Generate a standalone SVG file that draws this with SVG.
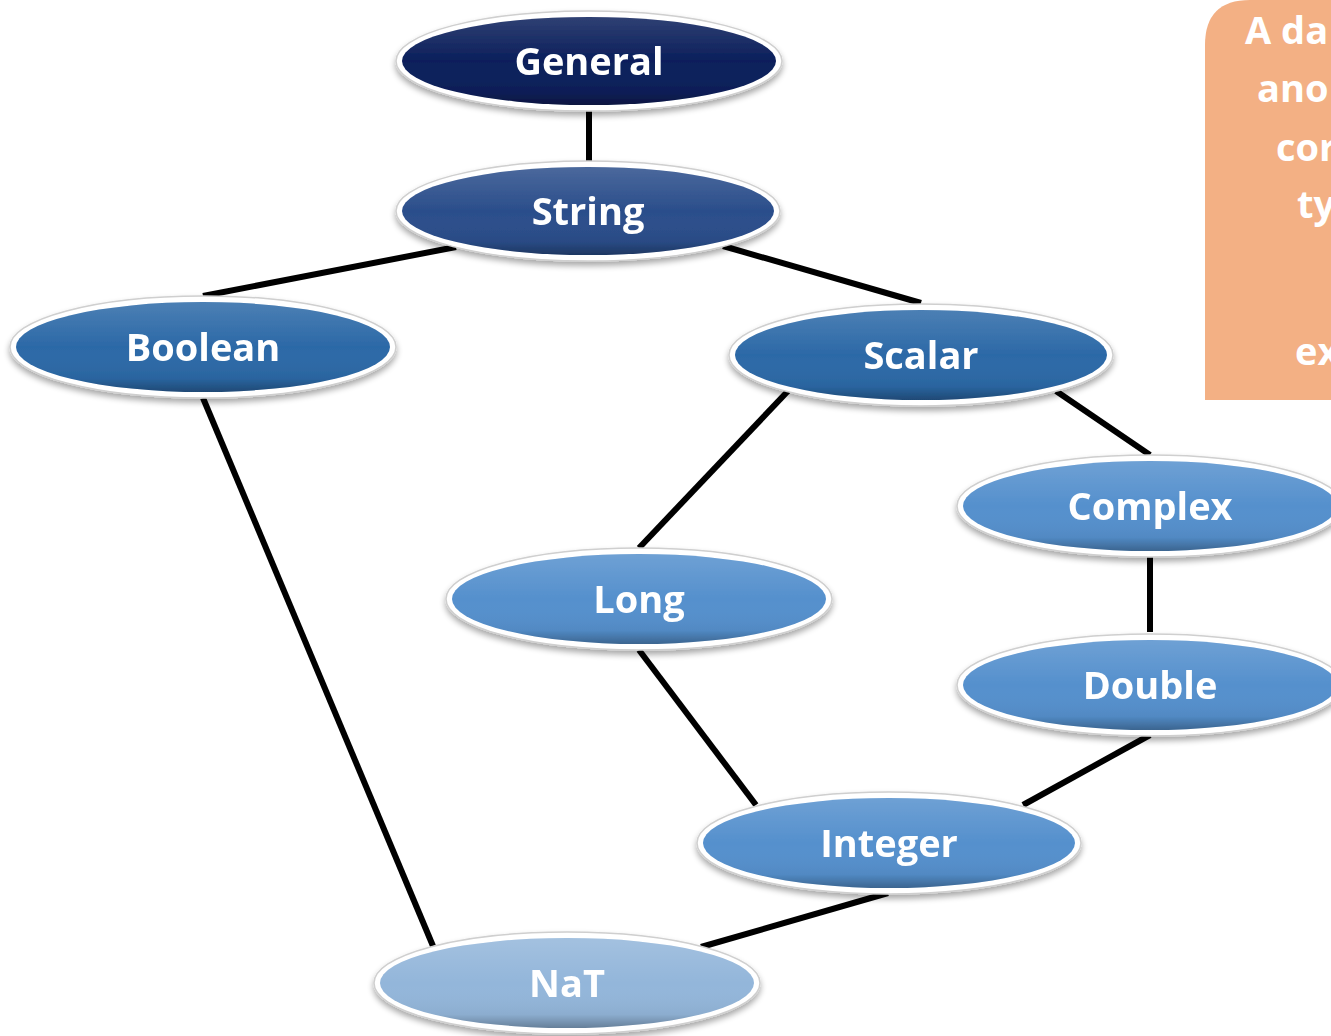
<svg xmlns="http://www.w3.org/2000/svg" width="1331" height="1036" viewBox="0 0 1331 1036">
<defs>
<filter id="sh" x="-10%" y="-20%" width="120%" height="150%">
<feGaussianBlur in="SourceAlpha" stdDeviation="3"/>
<feOffset dx="0" dy="4"/>
<feComponentTransfer><feFuncA type="linear" slope="0.35"/></feComponentTransfer>
<feMerge><feMergeNode/><feMergeNode in="SourceGraphic"/></feMerge>
</filter>
<linearGradient id="gloss" x1="0" y1="0" x2="0" y2="1">
<stop offset="0" stop-color="#ffffff" stop-opacity="0.15"/>
<stop offset="0.5" stop-color="#ffffff" stop-opacity="0"/>
<stop offset="0.85" stop-color="#000000" stop-opacity="0.05"/>
<stop offset="1" stop-color="#000000" stop-opacity="0.3"/>
</linearGradient>
</defs>
<style>
.edge{stroke:#000;stroke-width:6;fill:none}
.rim{fill:#fff;stroke:#cfcfcf;stroke-width:1.5}
.lbl{font-family:"Open Sans",Lato,"Liberation Sans",sans-serif;font-weight:bold;font-size:38px;fill:#fff;text-anchor:middle}
.note{font-family:"Open Sans",Lato,"Liberation Sans",sans-serif;font-weight:bold;font-size:38px;fill:#fff}
.c0{fill:#0b1f5b}.c1{fill:#2b4e8b}.c2{fill:#2c69a7}.c3{fill:#5590cd}.c4{fill:#93b6da}
</style>
<g id="note">
<path d="M1250,0 H1331 V400 H1205 V45 Q1205,0 1250,0 Z" fill="#f3b084"/>
<text class="note" x="1245" y="44">A da</text>
<text class="note" x="1257" y="102">ano</text>
<text class="note" x="1276" y="161">cor</text>
<text class="note" x="1297" y="218">ty</text>
<text class="note" x="1295" y="365">ex</text>
</g>
<g id="connectors">
<line class="edge" x1="589" y1="110" x2="589" y2="161"/>
<line class="edge" x1="456" y1="247" x2="203" y2="296"/>
<line class="edge" x1="723" y1="246" x2="921" y2="303"/>
<line class="edge" x1="788" y1="391" x2="639" y2="548"/>
<line class="edge" x1="1056" y1="391" x2="1150" y2="455"/>
<line class="edge" x1="1150" y1="557" x2="1150" y2="632"/>
<line class="edge" x1="639" y1="650" x2="756" y2="805"/>
<line class="edge" x1="1150" y1="735" x2="1023" y2="805"/>
<line class="edge" x1="203" y1="398" x2="433" y2="946"/>
<line class="edge" x1="888" y1="893" x2="701" y2="947"/>
</g>
<g id="General" filter="url(#sh)">
<ellipse class="rim" cx="589" cy="61" rx="193" ry="50"/>
<ellipse class="c0" cx="589" cy="61" rx="187" ry="44"/>
<ellipse cx="589" cy="61" rx="187" ry="44" fill="url(#gloss)"/>
<text class="lbl" x="589" y="75">General</text>
</g>
<g id="String" filter="url(#sh)">
<ellipse class="rim" cx="588" cy="211" rx="192" ry="50"/>
<ellipse class="c1" cx="588" cy="211" rx="186" ry="44"/>
<ellipse cx="588" cy="211" rx="186" ry="44" fill="url(#gloss)"/>
<text class="lbl" x="588" y="225">String</text>
</g>
<g id="Boolean" filter="url(#sh)">
<ellipse class="rim" cx="203" cy="347" rx="193" ry="51"/>
<ellipse class="c2" cx="203" cy="347" rx="187" ry="45"/>
<ellipse cx="203" cy="347" rx="187" ry="45" fill="url(#gloss)"/>
<text class="lbl" x="203" y="361">Boolean</text>
</g>
<g id="Scalar" filter="url(#sh)">
<ellipse class="rim" cx="921" cy="355" rx="192" ry="51"/>
<ellipse class="c2" cx="921" cy="355" rx="186" ry="45"/>
<ellipse cx="921" cy="355" rx="186" ry="45" fill="url(#gloss)"/>
<text class="lbl" x="921" y="369">Scalar</text>
</g>
<g id="Complex" filter="url(#sh)">
<ellipse class="rim" cx="1150" cy="506" rx="193" ry="51"/>
<ellipse class="c3" cx="1150" cy="506" rx="187" ry="45"/>
<ellipse cx="1150" cy="506" rx="187" ry="45" fill="url(#gloss)"/>
<text class="lbl" x="1150" y="520">Complex</text>
</g>
<g id="Long" filter="url(#sh)">
<ellipse class="rim" cx="639" cy="599" rx="193" ry="51"/>
<ellipse class="c3" cx="639" cy="599" rx="187" ry="45"/>
<ellipse cx="639" cy="599" rx="187" ry="45" fill="url(#gloss)"/>
<text class="lbl" x="639" y="613">Long</text>
</g>
<g id="Double" filter="url(#sh)">
<ellipse class="rim" cx="1150" cy="685" rx="193" ry="51"/>
<ellipse class="c3" cx="1150" cy="685" rx="187" ry="45"/>
<ellipse cx="1150" cy="685" rx="187" ry="45" fill="url(#gloss)"/>
<text class="lbl" x="1150" y="699">Double</text>
</g>
<g id="Integer" filter="url(#sh)">
<ellipse class="rim" cx="889" cy="843" rx="192" ry="51"/>
<ellipse class="c3" cx="889" cy="843" rx="186" ry="45"/>
<ellipse cx="889" cy="843" rx="186" ry="45" fill="url(#gloss)"/>
<text class="lbl" x="889" y="857">Integer</text>
</g>
<g id="NaT" filter="url(#sh)">
<ellipse class="rim" cx="567" cy="983" rx="193" ry="51"/>
<ellipse class="c4" cx="567" cy="983" rx="187" ry="45"/>
<ellipse cx="567" cy="983" rx="187" ry="45" fill="url(#gloss)"/>
<text class="lbl" x="567" y="997">NaT</text>
</g>
</svg>
